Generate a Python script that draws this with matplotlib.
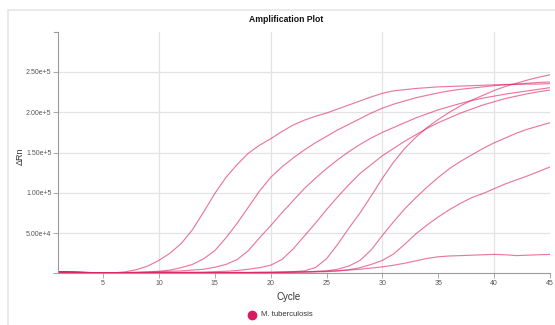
import matplotlib
matplotlib.use("Agg")
import matplotlib.pyplot as plt
from matplotlib.patches import Rectangle
import numpy as np

plt.rcParams['font.family'] = ['Liberation Sans', 'DejaVu Sans']

cycles = np.arange(1, 46)

# delta Rn per cycle, in thousands, one list per well
well_1 = [2.0, 1.6, 1.2, 0.8, 0.5, 0.6, 1.8, 4.5, 9, 16,
          25, 37, 54, 76, 99, 119, 135, 149, 159, 167,
          176, 184, 190, 195, 199, 204, 209, 214, 219, 223.5,
          226.5, 228, 229.5, 230.5, 231.5, 232, 232.5, 233, 233.5, 234,
          234.5, 234.5, 235, 235, 235.5]
well_2 = [2.0, 1.6, 1.2, 0.9, 0.6, 0.6, 0.9, 1.4, 2.0, 2.5,
          4, 7, 11, 18, 28, 44, 62, 82, 102, 119,
          132, 143, 153, 162, 170, 178, 185, 192, 199, 205,
          210, 214, 218, 221, 224, 226.5, 228.5, 230, 231.5, 233,
          234, 235, 236, 237, 237.5]
well_3 = [2.0, 1.6, 1.2, 0.9, 0.6, 0.5, 0.6, 0.9, 1.2, 2,
          2.5, 3, 4, 5, 7.5, 11, 17, 28, 44, 59,
          75, 90, 105, 118, 130, 141, 151, 160, 168, 175,
          181, 187, 193, 198, 203, 207, 211, 214.5, 217.5, 220,
          222.5, 224.5, 226.5, 228.5, 230.5]
well_4 = [1.8, 1.5, 1.1, 0.8, 0.5, 0.4, 0.5, 0.6, 0.8, 1.0,
          1.1, 1.2, 1.3, 1.5, 2, 2.5, 3.5, 5, 7, 10,
          17, 30, 46, 62, 79, 95, 110, 124, 135, 146,
          155, 164, 172, 180, 187, 193, 199, 204, 209, 213,
          217, 220, 223, 225.5, 227.5]
well_5 = [1.8, 1.5, 1.1, 0.8, 0.5, 0.4, 0.4, 0.5, 0.6, 0.7,
          0.8, 0.8, 0.9, 0.9, 1.0, 1.0, 1.1, 1.1, 1.2, 1.2,
          1.5, 2, 3, 7, 18, 36, 56, 75, 96, 118,
          138, 155, 169, 181, 191, 200, 208, 215, 221, 227,
          232, 236, 240, 243.5, 246.5]
well_6 = [1.6, 1.3, 1.0, 0.7, 0.5, 0.4, 0.4, 0.4, 0.5, 0.5,
          0.6, 0.6, 0.7, 0.7, 0.8, 0.8, 0.9, 0.9, 1.0, 1.1,
          1.3, 1.5, 1.8, 2.3, 3, 5, 9, 16, 29, 47,
          64, 80, 94, 107, 119, 130, 139, 147, 155, 162,
          168, 174, 179, 183, 187]
well_7 = [1.6, 1.3, 1.0, 0.7, 0.5, 0.4, 0.4, 0.4, 0.4, 0.5,
          0.5, 0.6, 0.6, 0.7, 0.7, 0.8, 0.8, 0.9, 1.0, 1.1,
          1.2, 1.3, 1.5, 1.7, 2, 3, 4.5, 7, 11, 16,
          24, 36, 49, 60, 70, 79, 87, 94, 99, 105,
          111, 116, 121, 126.5, 132]
well_8 = [1.5, 1.2, 0.9, 0.7, 0.5, 0.4, 0.4, 0.4, 0.5, 0.5,
          0.6, 0.6, 0.7, 0.7, 0.8, 0.8, 0.9, 0.9, 1.0, 1.0,
          1.2, 1.5, 1.8, 2.2, 2.6, 3, 4, 5, 6.5, 8,
          10, 12.5, 15.5, 18.5, 20.5, 21.5, 22, 22.5, 23, 23.5,
          23, 22, 22.5, 23, 23.5]
wells = [well_1, well_2, well_3, well_4, well_5, well_6, well_7, well_8]

x_ticks = [5, 10, 15, 20, 25, 30, 35, 40, 45]
x_grid = [10, 20, 30, 40]
y_ticks = [0, 50000, 100000, 150000, 200000, 250000]
y_labels = ['', '5.00e+4', '1.00e+5', '1.50e+5', '2.00e+5', '2.50e+5']

line_color = '#dc1f63'
axis_color = '#9a9a9a'
grid_color = '#e3e3e3'
text_color = '#555555'

fig = plt.figure(figsize=(5.55, 3.25), dpi=100)
fig.patches.append(Rectangle((8 / 555, -0.1), 1.2, 1.1 - 10 / 325,
                             transform=fig.transFigure, fill=False,
                             edgecolor='#e6e6e6', linewidth=1.2))

ax = fig.add_axes([58.3 / 555, 1 - 273.3 / 325, (550 - 58.3) / 555, (273.3 - 31.7) / 325])

for xv in x_grid:
    ax.axvline(xv, color=grid_color, lw=0.9, zorder=0)
for yv in y_ticks[1:]:
    ax.axhline(yv, color=grid_color, lw=0.9, zorder=0)

for w in wells:
    ax.plot(cycles, np.array(w) * 1000, color=line_color, lw=0.85, alpha=0.6)

ax.set_xlim(1, 45)
ax.set_ylim(0, 300000)
ax.set_xticks(x_ticks)
ax.set_yticks(y_ticks)
ax.set_yticklabels(y_labels)
ax.tick_params(axis='both', length=3.5, width=0.6, color=axis_color,
               labelsize=5, labelcolor=text_color, pad=1.5)

for side in ['top', 'right']:
    ax.spines[side].set_visible(False)
for side in ['left', 'bottom']:
    ax.spines[side].set_color(axis_color)
    ax.spines[side].set_linewidth(0.8)

# outer tick at the top of the y domain
ax.plot([-0.008, 0], [1, 1], transform=ax.transAxes, color=axis_color,
        lw=0.8, clip_on=False)

fig.text(286 / 555, 1 - 20 / 325, 'Amplification Plot', ha='center', va='center',
         fontsize=6.2, fontweight='bold', color='#111111')
fig.text(289 / 555, 1 - 297 / 325, 'Cycle', ha='center', va='center',
         fontsize=7, color='#333333')
fig.text(20.5 / 555, 1 - 156 / 325, 'ΔRn', ha='center', va='center',
         rotation=90, fontsize=6.5, color='#333333')

fig.lines.append(plt.Line2D([252 / 555], [1 - 315 / 325], marker='o', markersize=6,
                            color='#d81b60', transform=fig.transFigure))
fig.text(261 / 555, 1 - 315 / 325, 'M. tuberculosis', ha='left', va='center',
         fontsize=5.5, color='#333333')

fig.savefig('out.png', dpi=100)
